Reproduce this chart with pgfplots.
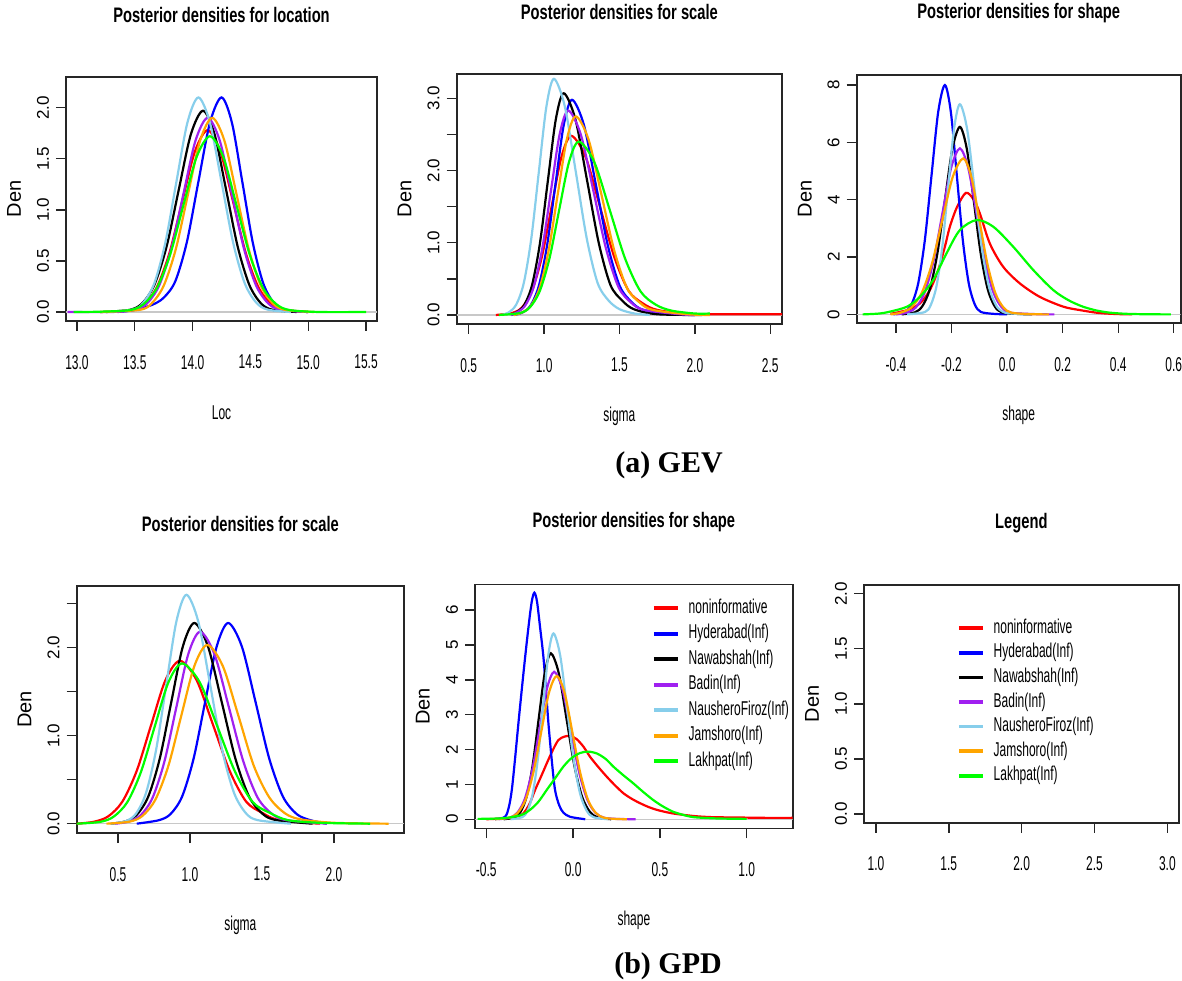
\documentclass[border=0pt]{standalone}
\usepackage{fontspec}
\setmainfont{Liberation Sans}
\newfontfamily\nar{Liberation Sans}[FakeStretch=0.6]
\newfontfamily\narb{Liberation Sans}[FakeStretch=0.7]
\newfontfamily\capfont{Liberation Serif}
\usepackage{pgfplots}
\pgfplotsset{compat=1.18}
\definecolor{rred}{RGB}{255,0,0}
\definecolor{rblue}{RGB}{0,0,255}
\definecolor{rblack}{RGB}{0,0,0}
\definecolor{rpurple}{RGB}{160,32,240}
\definecolor{rsky}{RGB}{135,206,235}
\definecolor{rorange}{RGB}{255,165,0}
\definecolor{rgreen}{RGB}{0,255,0}
\definecolor{rgray}{RGB}{200,200,200}
\pgfplotsset{
  rpanel/.style={
    scale only axis, anchor=south west,
    axis line style={black!85, line width=0.8pt},
    tick align=outside, xtick pos=bottom, ytick pos=left,
    major tick length=5pt,
    tick style={black!85, line width=0.7pt},
    xticklabel style={font=\nar\fontsize{10}{12}\selectfont, yshift=-8.5pt},
    yticklabel style={font=\fontsize{8.5}{10}\selectfont, rotate=90, anchor=south},
    title style={font=\narb\bfseries\fontsize{10.5}{12}\selectfont, at={(0.5,1)}, anchor=center, yshift=25pt},
    xlabel style={font=\nar\fontsize{10}{12}\selectfont, at={(0.5,0)}, anchor=center, yshift=-46pt},
    ylabel style={font=\fontsize{10}{12}\selectfont, anchor=center},
    ylabel={Den},
    every axis plot/.append style={line width=1.1pt, mark=none, smooth},
    legend style={draw=none, fill=none, inner sep=0pt, anchor=north west,
      font=\nar\fontsize{10}{12}\selectfont, row sep=1.75pt, column sep=4pt,
      nodes={inner sep=0.5pt, text height=7.5pt, text depth=2.5pt}},
    legend cell align=left,
    legend image code/.code={\draw[#1, line width=1.8pt] (0pt,0pt) -- (12pt,0pt);},
  },
}
\begin{document}
\begin{tikzpicture}
\path[use as bounding box] (0pt,0pt) rectangle (591pt,490pt);

% ---------------- Panel 1: GEV location
\begin{axis}[rpanel, at={(33pt,329.5pt)}, width=155.5pt, height=122pt,
  xmin=12.905, xmax=15.595, ymin=-0.088, ymax=2.30,
  xtick={13,13.5,14,14.5,15,15.5}, xticklabels={13.0,13.5,14.0,14.5,15.0,15.5},
  ytick={0,0.5,1,1.5,2}, yticklabels={0.0,0.5,1.0,1.5,2.0},
  ylabel style={at={(-0.167,0.5)}},
  title={Posterior densities for location}, xlabel={Loc}]
\addplot[rgray, line width=0.6pt, forget plot, sharp plot] coordinates {(12.905,0) (15.595,0)};
\addplot[rred] coordinates {(13.2,0) (13.47,0.02) (13.58,0.078) (13.69,0.241) (13.80,0.578) (13.91,1.08) (14.02,1.571) (14.13,1.78) (14.24,1.571) (14.35,1.08) (14.46,0.578) (14.57,0.241) (14.68,0.078) (14.79,0.02) (15.0,0)};
\addplot[rblue] coordinates {(13.35,0) (13.5,0.02) (13.65,0.07) (13.75,0.14) (13.85,0.30) (13.95,0.682) (14.05,1.274) (14.15,1.853) (14.25,2.10) (14.34,1.853) (14.43,1.274) (14.52,0.682) (14.61,0.284) (14.70,0.092) (14.79,0.023) (15.0,0)};
\addplot[rblack] coordinates {(13.25,0) (13.46,0.022) (13.565,0.086) (13.67,0.267) (13.775,0.64) (13.88,1.195) (13.985,1.739) (14.09,1.97) (14.19,1.739) (14.29,1.195) (14.39,0.64) (14.49,0.267) (14.59,0.086) (14.69,0.022) (14.9,0)};
\addplot[rpurple] coordinates {(12.92,0) (13.3,0) (13.50,0.021) (13.605,0.083) (13.71,0.257) (13.815,0.617) (13.92,1.152) (14.025,1.677) (14.13,1.90) (14.235,1.677) (14.34,1.152) (14.445,0.617) (14.55,0.257) (14.655,0.083) (14.76,0.021) (15.0,0)};
\addplot[rsky] coordinates {(13.2,0) (13.48,0.023) (13.575,0.092) (13.67,0.284) (13.765,0.682) (13.86,1.274) (13.955,1.853) (14.05,2.10) (14.15,1.853) (14.25,1.274) (14.35,0.682) (14.45,0.284) (14.55,0.092) (14.65,0.023) (14.85,0)};
\addplot[rorange] coordinates {(13.2,0) (13.54,0.021) (13.645,0.083) (13.75,0.257) (13.855,0.617) (13.96,1.152) (14.065,1.677) (14.17,1.90) (14.275,1.677) (14.38,1.152) (14.485,0.617) (14.59,0.257) (14.695,0.083) (14.80,0.021) (15.05,0)};
\addplot[rgreen] coordinates {(12.97,0) (13.2,0.003) (13.46,0.019) (13.575,0.076) (13.69,0.233) (13.805,0.558) (13.92,1.043) (14.035,1.518) (14.15,1.72) (14.265,1.518) (14.38,1.043) (14.495,0.558) (14.61,0.233) (14.725,0.076) (14.84,0.019) (15.1,0) (15.5,0)};
\end{axis}

% ---------------- Panel 2: GEV scale
\begin{axis}[rpanel, at={(228.35pt,328pt)}, width=162.65pt, height=125pt,
  xmin=0.42, xmax=2.578, ymin=-0.125, ymax=3.337,
  xtick={0.5,1,1.5,2,2.5}, xticklabels={0.5,1.0,1.5,2.0,2.5},
  ytick={0,0.5,1,1.5,2,2.5,3}, yticklabels={0.0,,1.0,,2.0,,3.0},
  ylabel style={at={(-0.16,0.5)}},
  title={Posterior densities for scale}, xlabel={sigma}]
\addplot[rgray, line width=0.6pt, forget plot, sharp plot] coordinates {(0.42,0) (2.578,0)};
\addplot[rred] coordinates {(0.68,0) (0.79,0.028) (0.855,0.109) (0.92,0.336) (0.985,0.805) (1.05,1.504) (1.115,2.189) (1.18,2.48) (1.275,2.189) (1.37,1.504) (1.465,0.805) (1.56,0.336) (1.655,0.16) (1.75,0.07) (1.95,0.015) (2.2,0.01) (2.578,0.01)};
\addplot[rblue] coordinates {(0.8,0) (0.855,0.033) (0.91,0.131) (0.965,0.403) (1.02,0.968) (1.075,1.807) (1.13,2.63) (1.185,2.98) (1.264,2.63) (1.343,1.807) (1.422,0.968) (1.501,0.403) (1.58,0.18) (1.659,0.07) (1.85,0.01) (2.0,0)};
\addplot[rblack] coordinates {(0.78,0) (0.815,0.034) (0.8675,0.135) (0.92,0.415) (0.9725,0.997) (1.025,1.862) (1.0775,2.709) (1.13,3.07) (1.2075,2.709) (1.285,1.862) (1.3625,0.997) (1.44,0.415) (1.5175,0.2) (1.595,0.08) (1.75,0.01) (2.05,0)};
\addplot[rpurple] coordinates {(0.78,0) (0.815,0.031) (0.8725,0.124) (0.93,0.383) (0.9875,0.919) (1.045,1.716) (1.1025,2.497) (1.16,2.83) (1.2435,2.497) (1.327,1.716) (1.4105,0.919) (1.494,0.383) (1.5775,0.17) (1.661,0.07) (1.9,0.01) (2.0,0)};
\addplot[rsky] coordinates {(0.72,0) (0.765,0.036) (0.815,0.144) (0.865,0.442) (0.915,1.062) (0.965,1.983) (1.015,2.886) (1.065,3.27) (1.1375,2.886) (1.21,1.983) (1.2825,1.062) (1.355,0.442) (1.4275,0.2) (1.50,0.08) (1.6,0.02) (1.7,0)};
\addplot[rorange] coordinates {(0.8,0) (0.85,0.031) (0.91,0.121) (0.97,0.372) (1.03,0.893) (1.09,1.668) (1.15,2.427) (1.21,2.75) (1.295,2.427) (1.38,1.668) (1.465,0.893) (1.55,0.372) (1.635,0.17) (1.72,0.07) (1.95,0.01) (2.1,0)};
\addplot[rgreen] coordinates {(0.7,0) (0.84,0.027) (0.905,0.105) (0.97,0.325) (1.035,0.779) (1.10,1.456) (1.165,2.118) (1.23,2.40) (1.3325,2.118) (1.435,1.456) (1.5375,0.779) (1.64,0.325) (1.7425,0.14) (1.845,0.06) (2.0,0.02) (2.1,0.02)};
\end{axis}

% ---------------- Panel 3: GEV shape
\begin{axis}[rpanel, at={(428.35pt,328.5pt)}, width=162pt, height=124pt,
  xmin=-0.5414, xmax=0.625, ymin=-0.30, ymax=8.35,
  xtick={-0.4,-0.2,0,0.2,0.4,0.6}, xticklabels={-0.4,-0.2,0.0,0.2,0.4,0.6},
  ytick={0,2,4,6,8}, yticklabels={0,2,4,6,8},
  ylabel style={at={(-0.16,0.5)}},
  title={Posterior densities for shape}, xlabel={shape}]
\addplot[rgray, line width=0.6pt, forget plot, sharp plot] coordinates {(-0.5414,0) (0.625,0)};
\addplot[rred] coordinates {(-0.42,0.02) (-0.36,0.15) (-0.314,0.38) (-0.278,0.85) (-0.248,1.55) (-0.224,2.36) (-0.206,3.06) (-0.18,3.75) (-0.148,4.24) (-0.12,4.0) (-0.098,3.52) (-0.062,2.47) (-0.014,1.66) (0.046,1.08) (0.118,0.61) (0.202,0.27) (0.262,0.15) (0.33,0.05) (0.4,0.01) (0.45,0)};
\addplot[rblue] coordinates {(-0.41,0) (-0.368,0.089) (-0.344,0.351) (-0.32,1.082) (-0.296,2.598) (-0.272,4.852) (-0.248,7.06) (-0.224,8.0) (-0.2025,7.06) (-0.181,4.852) (-0.1595,2.598) (-0.138,1.082) (-0.1165,0.351) (-0.095,0.089) (-0.05,0.02) (0.0,0)};
\addplot[rblack] coordinates {(-0.38,0) (-0.332,0.073) (-0.305,0.287) (-0.278,0.885) (-0.251,2.124) (-0.224,3.967) (-0.197,5.772) (-0.17,6.54) (-0.145,5.772) (-0.12,3.967) (-0.095,2.124) (-0.07,0.885) (-0.045,0.287) (-0.02,0.073) (0.03,0.02) (0.09,0)};
\addplot[rpurple] coordinates {(-0.4,0) (-0.359,0.064) (-0.3275,0.254) (-0.296,0.783) (-0.2645,1.88) (-0.233,3.512) (-0.2015,5.11) (-0.17,5.79) (-0.14,5.11) (-0.11,3.512) (-0.08,1.88) (-0.05,0.783) (-0.02,0.254) (0.01,0.064) (0.1,0.01) (0.17,0)};
\addplot[rsky] coordinates {(-0.36,0) (-0.296,0.081) (-0.275,0.322) (-0.254,0.992) (-0.233,2.38) (-0.212,4.446) (-0.191,6.469) (-0.17,7.33) (-0.144,6.469) (-0.118,4.446) (-0.092,2.38) (-0.066,0.992) (-0.04,0.322) (-0.014,0.081) (0.02,0.03) (0.06,0)};
\addplot[rorange] coordinates {(-0.42,0) (-0.383,0.06) (-0.3455,0.239) (-0.308,0.736) (-0.2705,1.766) (-0.233,3.299) (-0.1955,4.801) (-0.158,5.44) (-0.129,4.801) (-0.1,3.299) (-0.071,1.766) (-0.042,0.736) (-0.013,0.239) (0.016,0.06) (0.08,0.01) (0.15,0)};
\addplot[rgreen] coordinates {(-0.52,0) (-0.46,0.03) (-0.42,0.1) (-0.36,0.27) (-0.314,0.61) (-0.266,1.2) (-0.218,2.13) (-0.17,2.94) (-0.11,3.29) (-0.05,3.06) (0.022,2.36) (0.094,1.55) (0.166,0.85) (0.22,0.5) (0.27,0.28) (0.32,0.14) (0.37,0.06) (0.43,0.02) (0.5,0.005) (0.59,0)};
\end{axis}

% ---------------- Panel 4: GPD scale
\begin{axis}[rpanel, at={(38.35pt,73.5pt)}, width=163.65pt, height=123.5pt,
  xmin=0.213, xmax=2.486, ymin=-0.106, ymax=2.70,
  xtick={0.5,1,1.5,2}, xticklabels={0.5,1.0,1.5,2.0},
  ytick={0,0.5,1,1.5,2,2.5}, yticklabels={0.0,,1.0,,2.0,},
  ylabel style={at={(-0.159,0.5)}},
  title={Posterior densities for scale}, xlabel={sigma}]
\addplot[rgray, line width=0.6pt, forget plot, sharp plot] coordinates {(0.213,0) (2.486,0)};
\addplot[rred] coordinates {(0.213,0) (0.33,0.021) (0.43,0.081) (0.53,0.25) (0.63,0.601) (0.73,1.122) (0.83,1.633) (0.93,1.85) (1.045,1.633) (1.16,1.122) (1.275,0.601) (1.39,0.25) (1.505,0.12) (1.62,0.04) (1.9,0)};
\addplot[rblue] coordinates {(0.63,0) (0.785,0.04) (0.865,0.11) (0.945,0.308) (1.025,0.74) (1.105,1.383) (1.185,2.012) (1.265,2.28) (1.36,2.012) (1.455,1.383) (1.55,0.74) (1.645,0.308) (1.74,0.11) (1.835,0.04) (1.95,0)};
\addplot[rblack] coordinates {(0.45,0) (0.55,0.025) (0.63,0.1) (0.71,0.308) (0.79,0.74) (0.87,1.383) (0.95,2.012) (1.03,2.28) (1.125,2.012) (1.22,1.383) (1.315,0.74) (1.41,0.308) (1.505,0.11) (1.6,0.04) (1.85,0)};
\addplot[rpurple] coordinates {(0.48,0) (0.575,0.024) (0.6575,0.096) (0.74,0.295) (0.8225,0.708) (0.905,1.322) (0.9875,1.924) (1.07,2.18) (1.17,1.924) (1.27,1.322) (1.37,0.708) (1.47,0.295) (1.57,0.11) (1.67,0.04) (1.95,0)};
\addplot[rsky] coordinates {(0.45,0) (0.555,0.029) (0.625,0.114) (0.695,0.352) (0.765,0.844) (0.835,1.577) (0.905,2.295) (0.975,2.6) (1.0575,2.295) (1.14,1.577) (1.2225,0.844) (1.305,0.352) (1.3875,0.12) (1.47,0.04) (1.7,0)};
\addplot[rorange] coordinates {(0.42,0) (0.58,0.023) (0.67,0.089) (0.76,0.275) (0.85,0.659) (0.94,1.231) (1.03,1.791) (1.12,2.03) (1.2275,1.791) (1.335,1.231) (1.4425,0.659) (1.55,0.3) (1.6575,0.12) (1.765,0.05) (2.0,0.01) (2.38,0)};
\addplot[rgreen] coordinates {(0.213,0) (0.375,0.02) (0.47,0.08) (0.565,0.246) (0.66,0.591) (0.755,1.104) (0.85,1.606) (0.945,1.82) (1.0675,1.606) (1.19,1.104) (1.3125,0.591) (1.435,0.246) (1.5575,0.12) (1.68,0.04) (1.9,0.01) (2.25,0)};
\end{axis}

% ---------------- Panel 5: GPD shape
\begin{axis}[rpanel, at={(237.5pt,75.85pt)}, width=158.85pt, height=122pt,
  xmin=-0.565, xmax=1.265, ymin=-0.26, ymax=6.74,
  xtick={-0.5,0,0.5,1}, xticklabels={-0.5,0.0,0.5,1.0},
  ytick={0,1,2,3,4,5,6}, yticklabels={0,1,2,3,4,5,6},
  ylabel style={at={(-0.164,0.5)}},
  legend style={at={(axis cs:0.453,6.38)}},
  title={Posterior densities for shape}, xlabel={shape}]
\addplot[rgray, line width=0.6pt, forget plot, sharp plot] coordinates {(-0.565,0) (1.265,0)};
\addplot[rred] coordinates {(-0.5,0) (-0.38,0.03) (-0.32,0.08) (-0.286,0.17) (-0.25,0.45) (-0.219,0.84) (-0.185,1.22) (-0.152,1.6) (-0.12,1.95) (-0.085,2.27) (-0.05,2.37) (-0.017,2.39) (0.02,2.3) (0.06,2.08) (0.098,1.79) (0.145,1.5) (0.194,1.22) (0.24,0.98) (0.29,0.745) (0.34,0.58) (0.386,0.46) (0.43,0.36) (0.482,0.27) (0.54,0.2) (0.597,0.15) (0.7,0.09) (0.8,0.06) (0.95,0.05) (1.1,0.04) (1.265,0.04)};
\addlegendentry{noninformative}
\addplot[rblue] coordinates {(-0.45,0) (-0.392,0.07) (-0.37,0.35) (-0.353,0.84) (-0.335,1.7) (-0.315,2.75) (-0.295,3.75) (-0.276,4.66) (-0.255,5.6) (-0.238,6.25) (-0.223,6.5) (-0.208,6.25) (-0.19,5.5) (-0.171,4.66) (-0.156,3.7) (-0.142,2.75) (-0.123,1.7) (-0.104,0.84) (-0.08,0.4) (-0.056,0.19) (-0.017,0.07) (0.07,0)};
\addlegendentry{Hyderabad(Inf)}
\addplot[rblack] coordinates {(-0.4,0) (-0.338,0.053) (-0.303,0.209) (-0.268,0.644) (-0.233,1.546) (-0.198,2.887) (-0.163,4.201) (-0.128,4.76) (-0.083,4.201) (-0.038,2.887) (0.007,1.546) (0.052,0.644) (0.097,0.209) (0.142,0.053) (0.22,0)};
\addlegendentry{Nawabshah(Inf)}
\addplot[rpurple] coordinates {(-0.43,0) (-0.364,0.047) (-0.3215,0.186) (-0.279,0.572) (-0.2365,1.373) (-0.194,2.566) (-0.1515,3.733) (-0.109,4.23) (-0.0615,3.733) (-0.014,2.566) (0.0335,1.373) (0.081,0.572) (0.1285,0.186) (0.176,0.047) (0.25,0.01) (0.36,0)};
\addlegendentry{Badin(Inf)}
\addplot[rsky] coordinates {(-0.36,0) (-0.293,0.059) (-0.263,0.234) (-0.233,0.721) (-0.203,1.731) (-0.173,3.233) (-0.143,4.704) (-0.113,5.33) (-0.0745,4.704) (-0.036,3.233) (0.0025,1.731) (0.041,0.721) (0.0795,0.234) (0.118,0.059) (0.2,0)};
\addlegendentry{NausheroFiroz(Inf)}
\addplot[rorange] coordinates {(-0.45,0) (-0.364,0.046) (-0.319,0.18) (-0.274,0.556) (-0.229,1.335) (-0.184,2.493) (-0.139,3.627) (-0.094,4.11) (-0.049,3.627) (-0.004,2.493) (0.041,1.335) (0.086,0.556) (0.131,0.18) (0.176,0.046) (0.24,0.01) (0.31,0)};
\addlegendentry{Jamshoro(Inf)}
\addplot[rgreen] coordinates {(-0.55,0.01) (-0.4,0.03) (-0.3,0.12) (-0.248,0.27) (-0.2,0.5) (-0.152,0.84) (-0.1,1.2) (-0.056,1.51) (-0.01,1.75) (0.04,1.9) (0.088,1.94) (0.14,1.88) (0.19,1.72) (0.232,1.51) (0.29,1.26) (0.347,1.03) (0.4,0.8) (0.462,0.55) (0.52,0.36) (0.578,0.21) (0.616,0.15) (0.68,0.07) (0.75,0.04) (0.85,0.02) (1.0,0.01)};
\addlegendentry{Lakhpat(Inf)}
\end{axis}

% ---------------- Panel 6: Legend
\begin{axis}[rpanel, at={(432pt,78.65pt)}, width=157.35pt, height=118.85pt,
  xmin=0.918, xmax=3.078, ymin=-0.079, ymax=2.079,
  xtick={1,1.5,2,2.5,3}, xticklabels={1.0,1.5,2.0,2.5,3.0},
  ytick={0,0.5,1,1.5,2}, yticklabels={0.0,0.5,1.0,1.5,2.0},
  ylabel style={at={(-0.165,0.5)}},
  legend style={at={(axis cs:1.554,1.79)}, row sep=1.3pt},
  title={Legend}]
\addlegendimage{rred}\addlegendentry{noninformative}
\addlegendimage{rblue}\addlegendentry{Hyderabad(Inf)}
\addlegendimage{rblack}\addlegendentry{Nawabshah(Inf)}
\addlegendimage{rpurple}\addlegendentry{Badin(Inf)}
\addlegendimage{rsky}\addlegendentry{NausheroFiroz(Inf)}
\addlegendimage{rorange}\addlegendentry{Jamshoro(Inf)}
\addlegendimage{rgreen}\addlegendentry{Lakhpat(Inf)}
\end{axis}

\node[font=\capfont\bfseries\fontsize{15}{18}\selectfont] at (334.5pt,257.5pt) {(a) GEV};
\node[font=\capfont\bfseries\fontsize{15}{18}\selectfont] at (334pt,7pt) {(b) GPD};
\end{tikzpicture}
\end{document}
